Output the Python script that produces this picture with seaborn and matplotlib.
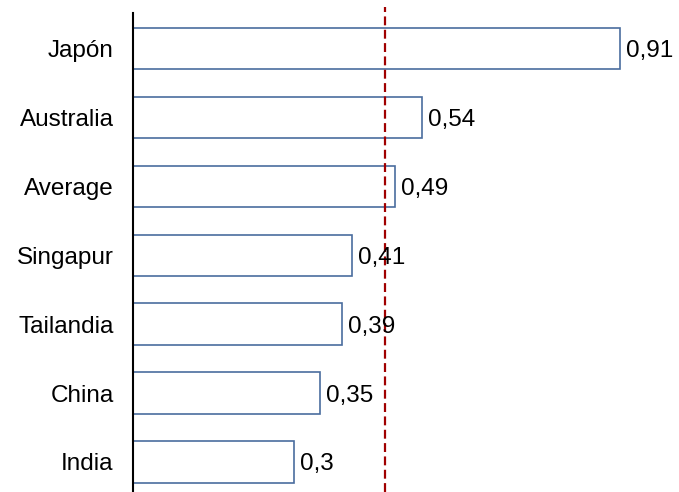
import matplotlib
matplotlib.use("Agg")
import matplotlib.pyplot as plt
import seaborn as sns
import pandas as pd

categories = ["Japón", "Australia", "Average", "Singapur", "Tailandia", "China", "India"]
values = [0.91, 0.54, 0.49, 0.41, 0.39, 0.35, 0.30]
value_labels = ["0,91", "0,54", "0,49", "0,41", "0,39", "0,35", "0,3"]
reference_line = 0.47

sns.set_theme(style="white")
plt.rcParams['font.family'] = ['Liberation Sans', 'DejaVu Sans']

df = pd.DataFrame({"country": categories, "value": values})

W, H = 679, 492
fig = plt.figure(figsize=(W / 100, H / 100), dpi=100)
ax_left = 133
ax = fig.add_axes([ax_left / W, 0, (W - ax_left) / W, 1])

sns.barplot(data=df, x="value", y="country", orient="h", ax=ax,
            color="white", edgecolor="#4A6D9E", linewidth=1.2, width=0.6)

scale = (620 - 133) / 0.91
ax.set_xlim(0, (W - ax_left) / scale)
spacing = (462 - 48.5) / 6
ax.set_ylim(6 + (H - 462) / spacing, -48.5 / spacing)

FS = 17.5
for i, (v, lab) in enumerate(zip(values, value_labels)):
    ax.text(v + 6 / scale, i, lab, va="center_baseline", ha="left", fontsize=FS, color="black")

ax.axvline(reference_line, ymin=0, ymax=1 - 7 / H, color="#A00000",
           linestyle=(0, (4, 2)), linewidth=1.6)

for s in ["top", "right", "bottom"]:
    ax.spines[s].set_visible(False)
ax.spines["left"].set_color("black")
ax.spines["left"].set_linewidth(1.5)
ax.spines["left"].set_bounds(6 + (H - 462) / spacing, -(48.5 - 13) / spacing)

ax.set_xticks([])
ax.tick_params(axis="y", length=0, pad=14, labelsize=FS, labelcolor="black")
for t in ax.get_yticklabels():
    t.set_verticalalignment("center_baseline")
ax.set_xlabel("")
ax.set_ylabel("")

fig.savefig("out.png", dpi=100)
